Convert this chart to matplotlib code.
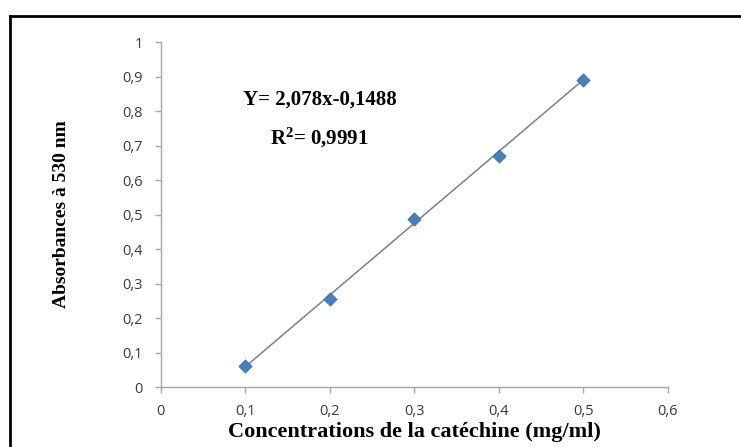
import numpy as np
import matplotlib.pyplot as plt
from matplotlib.lines import Line2D

plt.rcParams["mathtext.fontset"] = "custom"
plt.rcParams["mathtext.rm"] = "Liberation Serif:bold"
plt.rcParams["mathtext.it"] = "Liberation Serif:bold"
plt.rcParams["mathtext.bf"] = "Liberation Serif:bold"

# -------------------------------
# Data (calibration catéchine)
# -------------------------------
concentrations = [0.1, 0.2, 0.3, 0.4, 0.5]
absorbances = [0.061, 0.255, 0.487, 0.671, 0.889]
slope = 2.078
intercept = -0.1488
eq_label = "Y= 2,078x-0,1488"
r2_label = "0,9991"

x_ticks = [0, 0.1, 0.2, 0.3, 0.4, 0.5, 0.6]
y_ticks = [0, 0.1, 0.2, 0.3, 0.4, 0.5, 0.6, 0.7, 0.8, 0.9, 1]


def fr(v):
    # comma decimal separator
    return ("%g" % v).replace(".", ",")


fig = plt.figure(figsize=(7.41, 4.47), dpi=100)
ax = fig.add_axes([0.217, 0.134, 0.684, 0.772])

# trend line
xl = np.array([concentrations[0], concentrations[-1]])
ax.plot(xl, slope * xl + intercept, color="#7f7f7f", lw=1.1, zorder=2)

# points
ax.scatter(concentrations, absorbances, marker="D", s=46,
           color="#4a7ebb", edgecolor="#3d6fae", linewidth=0.5, zorder=3)

ax.set_xlim(0, 0.6)
ax.set_ylim(0, 1)
ax.set_xticks(x_ticks)
ax.set_yticks(y_ticks)
ax.set_xticklabels([fr(v) for v in x_ticks])
ax.set_yticklabels([fr(v) for v in y_ticks])

for s in ["top", "right"]:
    ax.spines[s].set_visible(False)
for s in ["left", "bottom"]:
    ax.spines[s].set_color("#a6a6a6")
    ax.spines[s].set_linewidth(1.0)

ax.tick_params(axis="both", direction="out", length=4, width=1,
               color="#a6a6a6", labelcolor="#3a3a3a", labelsize=10.5)
ax.tick_params(axis="x", pad=8)
ax.tick_params(axis="y", pad=9)
for lab in ax.get_xticklabels() + ax.get_yticklabels():
    lab.set_family("Open Sans")

ax.set_xlabel("Concentrations de la catéchine (mg/ml)", family="Liberation Serif",
              fontweight="bold", fontsize=16)
ax.set_ylabel("Absorbances à 530 nm", family="Liberation Serif",
              fontweight="bold", fontsize=14)
ax.xaxis.set_label_coords(0.5, -0.1)
ax.yaxis.set_label_coords(-0.18, 0.5)

# equation text
ax.text(0.188, 0.832, eq_label, ha="center", va="center",
        family="Liberation Serif", fontweight="bold", fontsize=15)
ax.text(0.188, 0.722, r"R$^{2}$= " + r2_label, ha="center", va="center",
        family="Liberation Serif", fontweight="bold", fontsize=15)

# outer frame (left + top only)
fig.add_artist(Line2D([9.5 / 741, 9.5 / 741], [0, 1 - 16 / 447],
                      transform=fig.transFigure, color="black", lw=2))
fig.add_artist(Line2D([9.5 / 741, 1], [1 - 16 / 447, 1 - 16 / 447],
                      transform=fig.transFigure, color="black", lw=2))

fig.savefig("out.png", dpi=100)
